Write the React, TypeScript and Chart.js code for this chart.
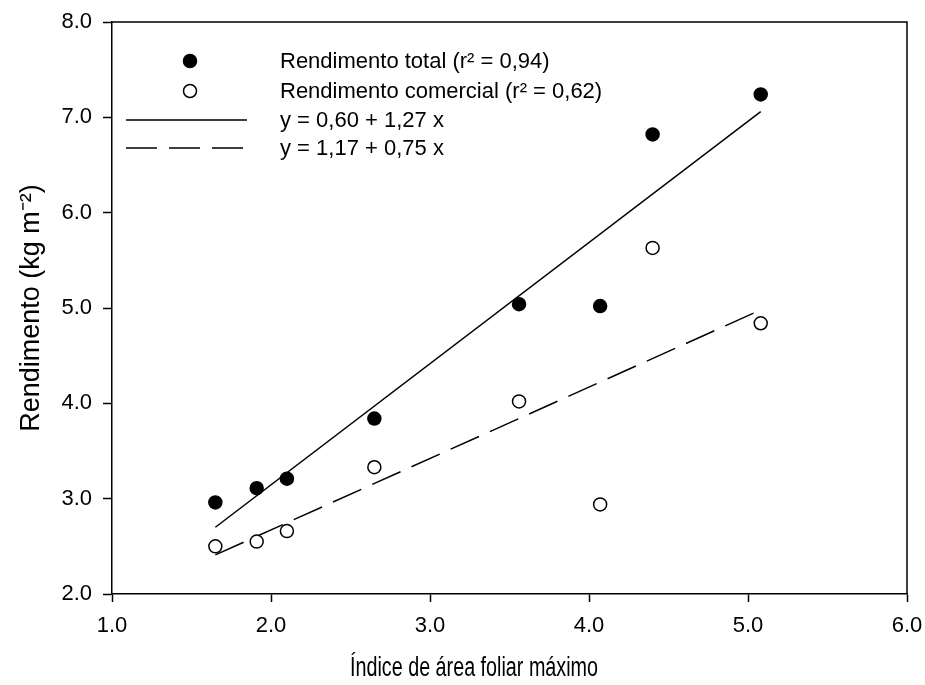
import { useEffect, useRef } from "react";
import { Chart, registerables } from "chart.js";

Chart.register(...registerables);

// ---- data ----
const leafAreaIndex = [1.65, 1.91, 2.1, 2.65, 3.56, 4.07, 4.4, 5.08];
const totalYield = [2.96, 3.11, 3.21, 3.84, 5.04, 5.02, 6.82, 7.24];
const commercialYield = [2.5, 2.55, 2.66, 3.33, 4.02, 2.94, 5.63, 4.84];
const fitX = [1.65, 5.08];
const totalFitY = [2.7, 7.06];
const commercialFitY = [2.41, 4.98];
const xTickValues = [1, 2, 3, 4, 5, 6];
const yTickValues = [2, 3, 4, 5, 6, 7, 8];
const legendLabels = [
  "Rendimento total (r² = 0,94)",
  "Rendimento comercial (r² = 0,62)",
  "y = 0,60 + 1,27 x",
  "y = 1,17 + 0,75 x",
];
const xTitle = "Índice de área foliar máximo";
const yTitle = "Rendimento (kg m⁻²)";

const FONT = "Arial, 'Liberation Sans', Helvetica, sans-serif";
const DASH = [31, 12];

const toPoints = (xs: number[], ys: number[]) => xs.map((x, i) => ({ x, y: ys[i] }));

const framePlugin = {
  id: "frame",
  afterDraw(chart: any) {
    const { ctx, chartArea } = chart;
    ctx.save();
    ctx.strokeStyle = "#000";
    ctx.lineWidth = 1.5;
    ctx.beginPath();
    ctx.moveTo(chartArea.left, chartArea.top);
    ctx.lineTo(chartArea.right, chartArea.top);
    ctx.lineTo(chartArea.right, chartArea.bottom);
    ctx.stroke();
    ctx.restore();
  },
};

const xTitlePlugin = {
  id: "xTitle",
  afterDraw(chart: any) {
    const { ctx } = chart;
    ctx.save();
    ctx.font = `27px ${FONT}`;
    ctx.fillStyle = "#000";
    ctx.textAlign = "center";
    ctx.textBaseline = "alphabetic";
    const w = ctx.measureText(xTitle).width;
    ctx.translate(474, 676);
    ctx.scale(248 / w, 1);
    ctx.fillText(xTitle, 0, 0);
    ctx.restore();
  },
};

const legendPlugin = {
  id: "customLegend",
  afterDraw(chart: any) {
    const { ctx, chartArea } = chart;
    const L = chartArea.left;
    const T = chartArea.top;
    const markerX = L + 78;
    const textX = L + 168;
    const rows = [T + 39, T + 69, T + 98, T + 126];
    ctx.save();
    ctx.lineWidth = 1.5;
    ctx.strokeStyle = "#000";
    // filled marker
    ctx.beginPath();
    ctx.arc(markerX, rows[0], 6.5, 0, Math.PI * 2);
    ctx.fillStyle = "#000";
    ctx.fill();
    ctx.stroke();
    // open marker
    ctx.beginPath();
    ctx.arc(markerX, rows[1], 6.5, 0, Math.PI * 2);
    ctx.fillStyle = "#fff";
    ctx.fill();
    ctx.stroke();
    // solid line
    ctx.beginPath();
    ctx.moveTo(L + 14, rows[2]);
    ctx.lineTo(L + 135, rows[2]);
    ctx.stroke();
    // dashed line
    ctx.setLineDash(DASH);
    ctx.beginPath();
    ctx.moveTo(L + 14, rows[3]);
    ctx.lineTo(L + 135, rows[3]);
    ctx.stroke();
    ctx.setLineDash([]);
    // texts
    ctx.fillStyle = "#000";
    ctx.font = `22px ${FONT}`;
    ctx.textBaseline = "middle";
    ctx.textAlign = "left";
    legendLabels.forEach((t, i) => ctx.fillText(t, textX, rows[i] + 1));
    ctx.restore();
  },
};

export default function App() {
  const ref = useRef<HTMLCanvasElement | null>(null);

  useEffect(() => {
    document.body.style.margin = "0";
    const canvas = ref.current;
    if (!canvas) return;
    const chart = new Chart(canvas, {
      type: "scatter",
      data: {
        datasets: [
          {
            label: "fitTotal",
            type: "line",
            data: toPoints(fitX, totalFitY),
            borderColor: "#000",
            borderWidth: 1.5,
            pointRadius: 0,
            fill: false,
            order: 3,
          },
          {
            label: "fitCommercial",
            type: "line",
            data: toPoints(fitX, commercialFitY),
            borderColor: "#000",
            borderWidth: 1.5,
            borderDash: DASH,
            pointRadius: 0,
            fill: false,
            order: 4,
          },
          {
            label: "total",
            data: toPoints(leafAreaIndex, totalYield),
            backgroundColor: "#000",
            borderColor: "#000",
            borderWidth: 1.5,
            pointRadius: 6.5,
            order: 1,
          },
          {
            label: "commercial",
            data: toPoints(leafAreaIndex, commercialYield),
            backgroundColor: "#fff",
            borderColor: "#000",
            borderWidth: 1.5,
            pointRadius: 6.5,
            order: 2,
          },
        ],
      },
      options: {
        animation: false,
        responsive: false,
        devicePixelRatio: 1,
        layout: { padding: { top: 22, right: 18, left: 0, bottom: 0 } },
        plugins: {
          legend: { display: false },
          tooltip: { enabled: false },
        },
        scales: {
          x: {
            type: "linear",
            min: 1,
            max: 6,
            afterFit: (s: any) => {
              s.height = 91;
              s.paddingLeft = 0;
              s.paddingRight = 0;
            },
            afterBuildTicks: (s: any) => {
              s.ticks = xTickValues.map((v) => ({ value: v }));
            },
            grid: {
              drawOnChartArea: false,
              drawTicks: true,
              tickLength: 8,
              tickWidth: 1.5,
              tickColor: "#000",
            },
            border: { display: true, color: "#000", width: 1.5 },
            ticks: {
              color: "#000",
              padding: 11,
              maxRotation: 0,
              font: { family: FONT, size: 22 },
              callback: (v: any) => Number(v).toFixed(1),
            },
            title: { display: false },
          },
          y: {
            type: "linear",
            min: 2,
            max: 8,
            afterFit: (s: any) => {
              s.width = 112;
              s.paddingTop = 0;
              s.paddingBottom = 0;
            },
            afterBuildTicks: (s: any) => {
              s.ticks = yTickValues.map((v) => ({ value: v }));
            },
            grid: {
              drawOnChartArea: false,
              drawTicks: true,
              tickLength: 9,
              tickWidth: 1.5,
              tickColor: "#000",
            },
            border: { display: true, color: "#000", width: 1.5 },
            ticks: {
              color: "#000",
              padding: 11,
              font: { family: FONT, size: 22 },
              callback: (v: any) => Number(v).toFixed(1),
            },
            title: {
              display: true,
              text: yTitle,
              color: "#000",
              font: { family: FONT, size: 27 },
              padding: { top: 15, bottom: 0 },
            },
          },
        },
      },
      plugins: [framePlugin, legendPlugin, xTitlePlugin],
    });
    return () => chart.destroy();
  }, []);

  return (
    <div style={{ width: 925, height: 685, background: "#fff" }}>
      <canvas ref={ref} width={925} height={685} />
    </div>
  );
}
